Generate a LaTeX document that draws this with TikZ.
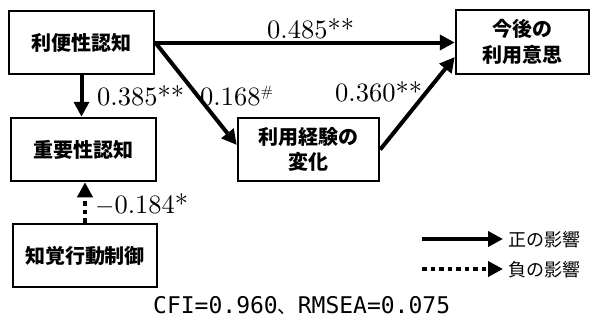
\documentclass[tikz,border=0pt]{standalone}
\usepackage{fontspec}
\newfontfamily\cjk{Noto Sans CJK JP}
\newfontfamily\monof{DejaVu Sans Mono}
\newfontfamily\numf{lmroman10-regular.otf}
\usetikzlibrary{arrows.meta,calc}
\begin{document}
\begin{tikzpicture}[x=1pt,y=-1pt,
  box/.style={draw, line width=2.5pt, inner sep=0pt, align=center,
    font=\cjk\bfseries\fontsize{20}{25.5}\selectfont},
  arr/.style={line width=4pt, -{Triangle[length=15pt,width=15pt]}},
  dotarr/.style={arr, dash pattern=on 4.5pt off 4pt},
  num/.style={inner sep=0pt, anchor=base west, font=\numf\fontsize{26.5}{30}\selectfont},
  legtext/.style={inner sep=0pt, anchor=west, font=\cjk\fontsize{18}{20}\selectfont}]
\useasboundingbox (0,0) rectangle (595,325);
\fill[white] (0,0) rectangle (595,325);
% boxes
\node[box, minimum width=145pt, minimum height=63pt] (a) at (81.5,42.5) {利便性認知};
\node[box, minimum width=145pt, minimum height=63pt] (b) at (83.5,149.5) {重要性認知};
\node[box, minimum width=144pt, minimum height=63pt] (e) at (85,255.5) {知覚行動制御};
\node[box, minimum width=141pt, minimum height=63pt] (c) at (308.5,149.5) {利用経験の\\変化};
\node[box, minimum width=133pt, minimum height=64pt] (d) at (522.5,42) {今後の\\利用意思};
% connectors
\draw[arr] (a.east) -- (a.east -| d.west);
\draw[arr] (a.south) -- (a.south |- b.north);
\draw[arr] (a.east) -- ($(c.west)+(0,-4.5)$);
\draw[arr] (c.east) -- ($(d.west)+(0,15)$);
\draw[dotarr] (e.north) -- (e.north |- b.south);
% labels
\node[num] (l485) at (267,38) {0.485**};
\node[num] (l385) at (97,105) {0.385**};
\node[num] (l168) at (200,105) {0.168\raisebox{0.32em}{\fontsize{15}{15}\selectfont\#}};
\node[num] (l360) at (335,101) {0.360**};
\node[num] (l184) at (95,213) {$-$0.184*};
% legend
\coordinate (p1) at (422,239);
\coordinate (p2) at (422,269);
\node[legtext] (t1) at (508,240) {正の影響};
\node[legtext] (t2) at (508,270) {負の影響};
\draw[arr] (p1) -- ([xshift=-5pt]t1.west |- p1);
\draw[dotarr] (p2) -- ([xshift=-5pt]t2.west |- p2);
% fit indices
\node[inner sep=0pt, anchor=base west, font=\monof\fontsize{23}{26}\selectfont] (fit) at (153,313)
  {CFI=0.960\makebox[20pt][l]{\cjk\fontsize{19}{20}\selectfont 、}RMSEA=0.075};
\end{tikzpicture}
\end{document}
